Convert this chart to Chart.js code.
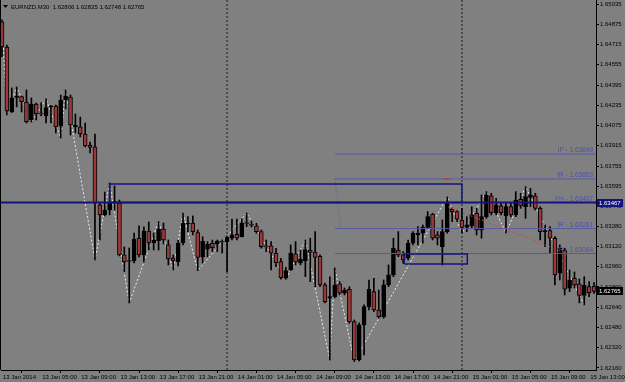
<!DOCTYPE html>
<html><head><meta charset="utf-8">
<script src="https://cdn.jsdelivr.net/npm/chart.js@4/dist/chart.umd.min.js"></script>
<style>html,body{margin:0;padding:0;background:#808080;overflow:hidden}canvas{display:block}</style>
</head><body><canvas id="c" width="625" height="382"></canvas>
<script>
// ---------- DATA ----------
const symbolTitle = 'EURNZD,M30';
// bar index of each time label (M30 bars, bar 0 = 13 Jan 2014 01:00)
const timeTickBars = [0,8,16,24,32,40,48,56,64,72,80,88,96,104,112,120];
const timeLabels = ['13 Jan 2014','13 Jan 05:00','13 Jan 09:00','13 Jan 13:00','13 Jan 17:00','13 Jan 21:00',
  '14 Jan 01:00','14 Jan 05:00','14 Jan 09:00','14 Jan 13:00','14 Jan 17:00','14 Jan 21:00',
  '15 Jan 01:00','15 Jan 05:00','15 Jan 09:00','15 Jan 13:00'];
const priceTicks = [1.65035,1.64875,1.64715,1.64555,1.64395,1.64235,1.64075,1.63915,1.63755,1.63595,
  1.63440,1.63280,1.63120,1.62960,1.62800,1.62640,1.62480,1.62320,1.62160];
const priceTickLabels = ['1.65035','1.64875','1.64715','1.64555','1.64395','1.64235','1.64075','1.63915','1.63755','1.63595',
  '1.63440','1.63280','1.63120','1.62960','1.62800','1.62640','1.62480','1.62320','1.62160'];

const opens = [1.64895,1.64695,1.64182,1.64297,1.64303,1.64261,1.64119,1.64245,1.64170,1.64150,
 1.64222,1.64229,1.64071,1.64277,1.64300,1.64064,1.64064,1.64008,1.63921,1.63906,
 1.63448,1.63369,1.63408,1.63467,1.63463,1.63053,1.63009,1.63005,1.63187,1.63053,
 1.63242,1.63150,1.63166,1.63258,1.63132,1.63029,1.63000,1.63147,1.63297,1.63305,
 1.63229,1.63037,1.63098,1.63145,1.63137,1.63159,1.63158,1.63185,1.63216,1.63197,
 1.63305,1.63294,1.63282,1.63237,1.63118,1.63124,1.63066,1.63000,1.62869,1.62934,
 1.63061,1.62989,1.63008,1.63092,1.63076,1.63041,1.62816,1.62711,1.62723,1.62824,
 1.62750,1.62782,1.62526,1.62223,1.62500,1.62644,1.62763,1.62618,1.62565,1.62816,
 1.62895,1.63092,1.63053,1.63027,1.63145,1.63211,1.63224,1.63271,1.63376,1.63211,
 1.63118,1.63237,1.63414,1.63395,1.63329,1.63271,1.63282,1.63382,1.63250,1.63355,
 1.63519,1.63387,1.63440,1.63361,1.63434,1.63369,1.63493,1.63434,1.63508,1.63519,
 1.63421,1.63237,1.63245,1.63185,1.62908,1.63092,1.62790,1.62869,1.62824,1.62733,
 1.62802,1.62806];
const highs = [1.64909,1.64711,1.64372,1.64380,1.64308,1.64356,1.64293,1.64253,1.64255,1.64285,
 1.64233,1.64237,1.64316,1.64356,1.64316,1.64166,1.64142,1.64095,1.63945,1.64008,
 1.63463,1.63550,1.63621,1.63598,1.63487,1.63116,1.63108,1.63226,1.63282,1.63274,
 1.63313,1.63226,1.63316,1.63305,1.63171,1.63053,1.63171,1.63384,1.63355,1.63361,
 1.63250,1.63197,1.63158,1.63171,1.63171,1.63171,1.63203,1.63337,1.63337,1.63337,
 1.63384,1.63321,1.63303,1.63250,1.63171,1.63158,1.63106,1.63027,1.62955,1.63132,
 1.63158,1.63092,1.63171,1.63185,1.63237,1.63053,1.62831,1.62881,1.62950,1.62842,
 1.62792,1.62802,1.62539,1.62516,1.62658,1.62855,1.62869,1.62776,1.62855,1.62974,
 1.63185,1.63237,1.63079,1.63171,1.63237,1.63276,1.63290,1.63395,1.63382,1.63237,
 1.63329,1.63511,1.63424,1.63408,1.63421,1.63355,1.63434,1.63421,1.63527,1.63553,
 1.63540,1.63500,1.63461,1.63461,1.63461,1.63553,1.63540,1.63592,1.63579,1.63540,
 1.63434,1.63290,1.63276,1.63197,1.63132,1.63106,1.62934,1.62918,1.62863,1.62881,
 1.62842,1.62835];
const lows = [1.64619,1.64158,1.64178,1.64222,1.64182,1.64095,1.64103,1.64119,1.64150,1.64095,
 1.64095,1.64016,1.63977,1.64206,1.64000,1.64016,1.63985,1.63906,1.63858,1.63013,
 1.63171,1.63361,1.63369,1.63408,1.63045,1.62918,1.62674,1.62989,1.63037,1.62997,
 1.63092,1.63092,1.63092,1.63140,1.62974,1.62934,1.62966,1.63132,1.63237,1.63211,
 1.62929,1.62989,1.63039,1.63079,1.63079,1.63068,1.62921,1.63171,1.63171,1.63195,
 1.63276,1.63274,1.63224,1.63106,1.63079,1.62934,1.62960,1.62861,1.62861,1.62929,
 1.62974,1.62974,1.62881,1.62842,1.62802,1.62802,1.62674,1.62223,1.62713,1.62737,
 1.62737,1.62513,1.62210,1.62215,1.62263,1.62618,1.62605,1.62553,1.62553,1.62802,
 1.62881,1.63039,1.62987,1.63013,1.63132,1.63132,1.63145,1.63263,1.63171,1.63132,
 1.62974,1.63224,1.63316,1.63316,1.63224,1.63237,1.63263,1.63211,1.63185,1.63342,
 1.63369,1.63369,1.63369,1.63226,1.63353,1.63355,1.63421,1.63342,1.63434,1.63408,
 1.63171,1.63118,1.63066,1.62816,1.62855,1.62737,1.62763,1.62792,1.62674,1.62658,
 1.62723,1.62748];
const closes = [1.64698,1.64190,1.64293,1.64304,1.64263,1.64105,1.64245,1.64166,1.64166,1.64216,
 1.64229,1.64064,1.64277,1.64308,1.64079,1.64079,1.64008,1.63914,1.63902,1.63463,
 1.63369,1.63408,1.63463,1.63475,1.63053,1.62997,1.63001,1.63179,1.63053,1.63242,
 1.63147,1.63171,1.63258,1.63171,1.63021,1.63005,1.63147,1.63305,1.63305,1.63237,
 1.63034,1.63163,1.63137,1.63110,1.63163,1.63155,1.63192,1.63211,1.63185,1.63303,
 1.63301,1.63286,1.63237,1.63118,1.63116,1.63066,1.62992,1.62873,1.62929,1.63066,
 1.62997,1.63019,1.63096,1.63072,1.63034,1.62816,1.62684,1.62723,1.62816,1.62750,
 1.62776,1.62526,1.62223,1.62500,1.62644,1.62782,1.62618,1.62565,1.62816,1.62895,
 1.63106,1.63053,1.63013,1.63145,1.63224,1.63224,1.63271,1.63355,1.63185,1.63185,
 1.63237,1.63461,1.63395,1.63335,1.63271,1.63290,1.63369,1.63250,1.63355,1.63527,
 1.63387,1.63448,1.63387,1.63434,1.63369,1.63487,1.63440,1.63513,1.63527,1.63421,
 1.63237,1.63246,1.63185,1.62895,1.63106,1.62782,1.62855,1.62816,1.62733,1.62812,
 1.62755,1.62765];

// ZigZag indicator turning points
const zigzagBars   = [0,1,3,6,9,12,13,19,22,26,32,35,37,40,50,58,62,67,68,72,91,94,99,103,107,119];
const zigzagPrices = [1.64909,1.64158,1.64380,1.64103,1.64285,1.63977,1.64356,1.63013,1.63621,1.62674,
  1.63316,1.62934,1.63384,1.62929,1.63384,1.62861,1.63171,1.62223,1.62950,1.62210,
  1.63511,1.63224,1.63553,1.63226,1.63592,1.62658];

// Drawn objects
const levelNames  = ['IP','IR','FH','IR','IR'];
const levelPrices = [1.63849,1.63653,1.63467,1.63261,1.63064];
const levelStartBar = 68.06;
const hLinePrice = 1.63467;
const boxBars = [22, 94];            const boxPrices = [1.63467, 1.63613];
const smallBoxBars = [82.2, 95.1];   const smallBoxPrices = [1.62981, 1.63060];
const separatorBars = [46, 94];
const fiboLinkBars = [68.06, 69.2];  const fiboLinkPrices = [1.63653, 1.63261];
const redTrendBars = [91.2, 112];    const redTrendPrices = [1.63432, 1.63116];
const redMarkBars = [90.2, 91.6];    const redMarkPrice = 1.63653;

// ---------- STYLE ----------
const BG = '#808080';
const BEAR = '#9c3838';
const BULL = '#000000';
const NAVY = '#13137c';
const LEVEL = '#5858a4';
const FONT = '"Liberation Sans", Arial, sans-serif';
const xMin = -0.2044, xMax = 121.40;
const yMin = 1.62144, yMax = 1.650666;
const lastIdx = closes.length - 1;
const currentPrice = closes[lastIdx];

const bars = opens.map((_, i) => i);
const wickData = bars.map(i => ({x: i, y: [lows[i], highs[i]]}));
const bodyData = bars.map(i => ({x: i, y: [opens[i], closes[i]]}));
const bodyColors = bars.map(i => closes[i] >= opens[i] ? BULL : BEAR);

function seg(xs, ys){ return xs.map((x,i)=>({x, y: ys[i]})); }
function rect(bx, py){ return [{x:bx[0],y:py[0]},{x:bx[1],y:py[0]},{x:bx[1],y:py[1]},{x:bx[0],y:py[1]},{x:bx[0],y:py[0]}]; }
const lineBase = {type:'line', pointRadius:0, pointHoverRadius:0, fill:false, tension:0};

const datasets = [
  ...separatorBars.map(b => ({...lineBase, data:[{x:b,y:yMin},{x:b,y:yMax}], borderColor:'#1a1a1a', borderWidth:1, borderDash:[2,2], order:30})),
  {...lineBase, data: seg(zigzagBars, zigzagPrices), borderColor:'#ececec', borderWidth:1, borderDash:[2,2], order:20},
  {type:'bar', data: wickData, backgroundColor:'#000', borderWidth:0, barThickness:1, grouped:false, order:12},
  {type:'bar', data: bodyData, backgroundColor: bodyColors, borderColor:'#000', borderWidth:1, borderSkipped:false, barThickness:4, minBarLength:1, grouped:false, order:11},
  ...levelPrices.map(p => ({...lineBase, data:[{x:levelStartBar,y:p},{x:xMax,y:p}], borderColor:LEVEL, borderWidth:1, order:6})),
  {...lineBase, data: seg(fiboLinkBars, fiboLinkPrices), borderColor:LEVEL, borderWidth:1, borderDash:[1,2], order:5},
  {...lineBase, data: seg(redTrendBars, redTrendPrices), borderColor:'#d04444', borderWidth:1, borderDash:[2,2], order:5},
  {...lineBase, data: seg(redMarkBars, [redMarkPrice, redMarkPrice]), borderColor:'#d03030', borderWidth:1, order:4},
  {...lineBase, data: rect(boxBars, boxPrices), borderColor:NAVY, borderWidth:1.5, order:3},
  {...lineBase, data: rect(smallBoxBars, smallBoxPrices), borderColor:NAVY, borderWidth:1.5, order:3},
  {...lineBase, data:[{x:xMin,y:hLinePrice},{x:xMax,y:hLinePrice}], borderColor:NAVY, borderWidth:2, order:2}
];

const decor = {
  id: 'decor',
  beforeDraw(chart){
    const c = chart.ctx; c.save(); c.fillStyle = BG; c.fillRect(0,0,chart.width,chart.height); c.restore();
  },
  afterDraw(chart){
    const {ctx, chartArea:a, scales:{y}} = chart;
    ctx.save();
    // left frame line
    ctx.strokeStyle = '#000'; ctx.lineWidth = 1;
    ctx.beginPath(); ctx.moveTo(a.left - 0.5, a.top); ctx.lineTo(a.left - 0.5, a.bottom); ctx.stroke();
    // level labels
    ctx.font = '6.5px ' + FONT; ctx.fillStyle = '#4e4eaa'; ctx.textAlign = 'right'; ctx.textBaseline = 'bottom';
    levelPrices.forEach((p,i) => ctx.fillText(levelNames[i] + ' - ' + p.toFixed(5), a.right - 3, y.getPixelForValue(p) - 0.5));
    // price boxes on the axis
    ctx.font = '6px ' + FONT;
    const box = (p, bg) => {
      const py = Math.round(y.getPixelForValue(p));
      ctx.fillStyle = bg; ctx.fillRect(a.right + 1, py - 4, 26, 8);
      ctx.fillStyle = '#fff'; ctx.textAlign = 'left'; ctx.textBaseline = 'middle';
      ctx.fillText(p.toFixed(5), a.right + 3, py);
    };
    box(hLinePrice, NAVY);
    box(currentPrice, '#000');
    // title
    ctx.fillStyle = '#000';
    ctx.beginPath(); ctx.moveTo(3,5); ctx.lineTo(8,5); ctx.lineTo(5.5,8); ctx.closePath(); ctx.fill();
    ctx.textAlign = 'left'; ctx.textBaseline = 'middle';
    const t = [opens[lastIdx], highs[lastIdx], lows[lastIdx], closes[lastIdx]].map(v => v.toFixed(5)).join(' ');
    ctx.fillText(symbolTitle + '  ' + t, 11, 7);
    ctx.restore();
  }
};

new Chart(document.getElementById('c'), {
  type: 'bar',
  data: { datasets },
  plugins: [decor],
  options: {
    responsive: false, devicePixelRatio: 1, animation: false,
    layout: { padding: {left:1, top:0, right:0, bottom:0}, autoPadding: false },
    plugins: { legend:{display:false}, tooltip:{enabled:false} },
    events: [],
    scales: {
      x: {
        type:'linear', min:xMin, max:xMax, position:'bottom', offset:false,
        afterBuildTicks: s => { s.ticks = timeTickBars.map(v => ({value:v})); },
        afterFit: s => { s.height = 12; s.paddingLeft = 0; s.paddingRight = 0; },
        ticks: { autoSkip:false, maxRotation:0, minRotation:0, align:'start', padding:1, labelOffset:1,
          color:'#000', font:{family:FONT, size:6}, callback:(v,i) => timeLabels[i] },
        grid: { drawOnChartArea:false, drawTicks:true, tickLength:3, color:'#000' },
        border: { display:true, color:'#000', width:1 }
      },
      y: {
        type:'linear', position:'right', min:yMin, max:yMax,
        afterBuildTicks: s => { s.ticks = priceTicks.map(v => ({value:v})); },
        afterFit: s => { s.width = 29; s.paddingTop = 0; s.paddingBottom = 0; },
        ticks: { padding:1, color:'#000', font:{family:FONT, size:6}, callback:(v,i) => priceTickLabels[i] },
        grid: { drawOnChartArea:false, drawTicks:true, tickLength:3, color:'#000' },
        border: { display:true, color:'#000', width:1 }
      }
    }
  }
});
</script>
</body></html>
